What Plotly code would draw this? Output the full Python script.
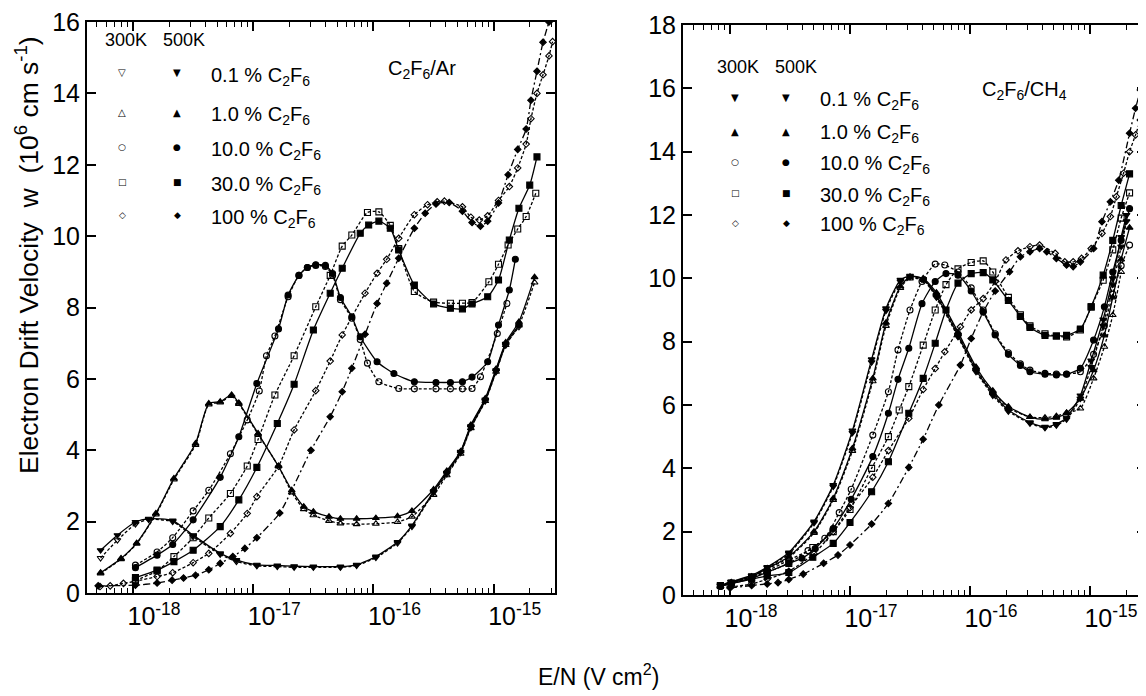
import numpy as np
import plotly.graph_objects as go

W, H = 1146, 696

# ===== Panel (a): C2F6/Ar  — x = log10(E/N / V cm^2), y = drift velocity (1e6 cm/s)
ar_01_500_x = [-18.27, -18.13, -17.98, -17.87, -17.67, -17.50, -17.275, -17.14, -16.97, -16.80, -16.66, -16.50, -16.275,
               -16.14, -15.98, -15.80, -15.68, -15.50, -15.39, -15.275, -15.19, -15.07, -14.98, -14.90, -14.79]
ar_01_500_y = [1.20, 1.62, 1.99, 2.08, 2.03, 1.62, 1.11, 0.92, 0.79, 0.77, 0.75, 0.74, 0.74,
               0.79, 1.02, 1.43, 1.89, 2.85, 3.37, 3.96, 4.67, 5.42, 6.24, 6.98, 7.50]
ar_01_300_x = ar_01_500_x
ar_01_300_y = [0.98, 1.48, 1.93, 2.06, 2.00, 1.58, 1.08, 0.88, 0.76, 0.74, 0.72, 0.72, 0.72,
               0.77, 0.99, 1.40, 1.86, 2.82, 3.33, 3.93, 4.63, 5.38, 6.20, 6.94, 7.46]

ar_1_500_x = [-18.27, -18.10, -17.97, -17.81, -17.66, -17.48, -17.37, -17.275, -17.18, -17.12, -16.96, -16.79, -16.68,
              -16.58, -16.50, -16.37, -16.275, -16.14, -15.98, -15.80, -15.68, -15.50, -15.39, -15.275, -15.19, -15.07,
              -14.98, -14.90, -14.79, -14.66]
ar_1_500_y = [0.57, 0.97, 1.40, 2.23, 3.21, 4.19, 5.31, 5.36, 5.55, 5.33, 4.47, 3.55, 2.88,
              2.42, 2.28, 2.14, 2.08, 2.08, 2.10, 2.15, 2.30, 2.90, 3.42, 3.97, 4.71, 5.45,
              6.28, 7.02, 7.60, 8.85]
ar_1_300_x = ar_1_500_x
ar_1_300_y = [0.55, 0.95, 1.38, 2.20, 3.18, 4.15, 5.28, 5.34, 5.52, 5.30, 4.45, 3.55, 2.82,
              2.35, 2.18, 2.02, 1.95, 1.93, 1.94, 1.99, 2.14, 2.75, 3.30, 3.90, 4.62, 5.38,
              6.20, 6.95, 7.50, 8.70]

ar_10_500_x = [-17.98, -17.80, -17.67, -17.50, -17.275, -17.12, -16.97, -16.79, -16.71, -16.62, -16.55, -16.48, -16.40,
               -16.34, -16.275, -16.18, -16.11, -15.97, -15.83, -15.66, -15.48, -15.36, -15.26, -15.18, -15.05, -14.96,
               -14.87, -14.82]
ar_10_500_y = [0.71, 1.06, 1.36, 2.05, 3.24, 4.38, 5.87, 7.40, 8.35, 8.90, 9.12, 9.20, 9.18,
               8.95, 8.28, 7.74, 7.18, 6.48, 6.15, 5.92, 5.90, 5.90, 5.92, 6.05, 6.48, 7.51,
               8.49, 9.35]
ar_10_300_x = [-17.98, -17.80, -17.67, -17.50, -17.37, -17.19, -17.05, -16.95, -16.89, -16.82, -16.71, -16.62, -16.55,
               -16.48, -16.40, -16.34, -16.275, -16.18, -16.11, -16.05, -15.955, -15.79, -15.66, -15.48, -15.36, -15.26,
               -15.18, -15.11, -14.97, -14.89]
ar_10_300_y = [0.78, 1.15, 1.55, 2.30, 2.88, 3.90, 4.85, 5.66, 6.65, 7.20, 8.30, 8.90, 9.12,
               9.18, 9.15, 8.90, 8.22, 7.70, 7.10, 6.44, 5.92, 5.73, 5.72, 5.72, 5.72, 5.72,
               5.73, 6.06, 7.27, 8.11]

ar_30_500_x = [-17.98, -17.80, -17.66, -17.50, -17.275, -17.12, -16.97, -16.80, -16.66, -16.50, -16.36, -16.26, -16.11,
               -16.04, -15.955, -15.86, -15.79, -15.66, -15.50, -15.36, -15.26, -15.18, -15.05, -14.96, -14.87, -14.79,
               -14.70, -14.64]
ar_30_500_y = [0.43, 0.64, 0.88, 1.20, 1.86, 2.61, 3.52, 4.75, 5.85, 7.37, 8.40, 9.10, 10.08,
               10.31, 10.42, 10.22, 9.61, 8.63, 8.10, 7.98, 7.96, 8.10, 8.30, 8.77, 9.89, 10.78,
               11.43, 12.22]
ar_30_300_x = [-17.98, -17.80, -17.66, -17.50, -17.37, -17.19, -17.05, -16.96, -16.82, -16.66, -16.48, -16.36, -16.26,
               -16.18, -16.05, -15.955, -15.86, -15.79, -15.66, -15.50, -15.36, -15.26, -15.18, -15.04, -14.96, -14.88,
               -14.80, -14.73, -14.65]
ar_30_300_y = [0.35, 0.62, 1.02, 1.55, 2.10, 2.79, 3.56, 4.30, 5.55, 6.65, 8.02, 8.90, 9.72,
               10.03, 10.66, 10.68, 10.30, 9.65, 8.45, 8.15, 8.12, 8.12, 8.14, 8.72, 9.21, 9.75,
               10.20, 10.55, 11.20]

ar_100_500_x = [-18.29, -17.98, -17.80, -17.675, -17.58, -17.48, -17.37, -17.275, -17.17, -17.07, -16.97, -16.78, -16.52,
                -16.36, -16.26, -16.18, -16.07, -15.97, -15.89, -15.79, -15.66, -15.57, -15.48, -15.37, -15.26, -15.18,
                -15.11, -15.05, -14.96, -14.88, -14.80, -14.73, -14.69, -14.64, -14.59, -14.54]
ar_100_500_y = [0.20, 0.22, 0.28, 0.36, 0.42, 0.50, 0.65, 0.83, 1.02, 1.25, 1.55, 2.24, 4.00,
                4.94, 5.64, 6.30, 7.25, 8.11, 8.68, 9.38, 10.22, 10.64, 10.90, 10.94, 10.70, 10.38,
                10.28, 10.42, 10.93, 11.72, 12.43, 13.00, 13.81, 14.62, 15.43, 16.00]
ar_100_300_x = [-18.275, -18.19, -18.08, -17.98, -17.80, -17.67, -17.50, -17.37, -17.19, -17.05, -16.97, -16.79, -16.66,
                -16.48, -16.36, -16.26, -16.07, -15.97, -15.89, -15.79, -15.66, -15.55, -15.47, -15.41, -15.26, -15.19,
                -15.12, -15.05, -14.96, -14.87, -14.80, -14.73, -14.69, -14.64, -14.59, -14.54, -14.51]
ar_100_300_y = [0.18, 0.20, 0.27, 0.33, 0.46, 0.57, 0.85, 1.11, 1.67, 2.23, 2.70, 3.55, 4.57,
                5.67, 6.50, 7.23, 8.40, 8.96, 9.35, 9.94, 10.60, 10.88, 10.96, 10.98, 10.82, 10.53,
                10.45, 10.57, 11.00, 11.39, 11.91, 12.58, 13.29, 14.00, 14.52, 15.05, 15.45]

# ===== Panel (b): C2F6/CH4
ch_01_500_x = [-18.08, -17.99, -17.82, -17.69, -17.51, -17.30, -17.14, -16.98, -16.82, -16.70, -16.58, -16.50, -16.39,
               -16.28, -16.10, -15.95, -15.81, -15.68, -15.50, -15.375, -15.28, -15.195, -15.08, -14.99, -14.89, -14.81,
               -14.74, -14.695]
ch_01_500_y = [0.30, 0.42, 0.62, 0.88, 1.34, 2.32, 3.47, 5.19, 7.44, 9.05, 9.95, 10.08, 9.98,
               9.45, 8.20, 7.10, 6.36, 5.84, 5.45, 5.31, 5.40, 5.60, 6.30, 7.40, 8.70, 10.00,
               11.30, 12.00]
ch_01_300_x = ch_01_500_x
ch_01_300_y = [0.30, 0.41, 0.60, 0.86, 1.30, 2.28, 3.42, 5.12, 7.35, 8.98, 9.90, 10.05, 9.95,
               9.40, 8.15, 7.05, 6.30, 5.80, 5.42, 5.28, 5.36, 5.55, 6.20, 7.20, 8.50, 9.80,
               11.00, 11.80]

ch_1_500_x = [-18.08, -17.99, -17.82, -17.69, -17.51, -17.30, -17.14, -16.98, -16.81, -16.70, -16.58, -16.50, -16.39,
              -16.28, -16.10, -15.95, -15.81, -15.68, -15.50, -15.375, -15.28, -15.195, -15.08, -14.97, -14.88, -14.81,
              -14.74, -14.67]
ch_1_500_y = [0.28, 0.40, 0.58, 0.84, 1.21, 2.00, 3.05, 4.63, 6.84, 8.60, 9.75, 10.05, 10.00,
              9.55, 8.30, 7.20, 6.45, 5.95, 5.62, 5.55, 5.60, 5.75, 6.20, 7.10, 8.20, 9.40,
              10.60, 11.60]
ch_1_300_x = [-18.08, -17.99, -17.82, -17.69, -17.51, -17.30, -17.14, -16.98, -16.81, -16.70, -16.58, -16.50, -16.39,
              -16.28, -16.10, -15.95, -15.81, -15.68, -15.50, -15.375, -15.28, -15.195, -15.08, -14.97, -14.88, -14.81,
              -14.74]
ch_1_300_y = [0.28, 0.39, 0.57, 0.82, 1.18, 1.96, 3.00, 4.55, 6.75, 8.50, 9.70, 10.00, 9.95,
              9.50, 8.25, 7.15, 6.40, 5.90, 5.62, 5.60, 5.65, 5.75, 5.89, 6.84, 7.84, 8.84,
              10.20]

ch_10_500_x = [-18.08, -17.99, -17.82, -17.69, -17.51, -17.40, -17.29, -17.14, -16.99, -16.81, -16.68, -16.60, -16.51,
               -16.40, -16.29, -16.20, -16.10, -15.99, -15.89, -15.79, -15.68, -15.58, -15.50, -15.375, -15.28, -15.195,
               -15.08, -14.97, -14.88, -14.81, -14.74, -14.67]
ch_10_500_y = [0.27, 0.36, 0.52, 0.72, 1.00, 1.16, 1.47, 2.10, 3.02, 4.37, 5.74, 6.81, 7.79,
               9.20, 9.90, 10.15, 10.10, 9.60, 8.94, 8.21, 7.60, 7.25, 7.05, 6.97, 6.95, 6.97,
               7.16, 8.05, 9.10, 10.20, 11.20, 12.20]
ch_10_300_x = [-18.08, -17.99, -17.82, -17.69, -17.51, -17.35, -17.21, -17.09, -16.99, -16.81, -16.68, -16.60, -16.50,
               -16.40, -16.29, -16.21, -16.10, -15.99, -15.89, -15.79, -15.68, -15.58, -15.50, -15.375, -15.28, -15.195,
               -15.08, -14.97, -14.88, -14.81, -14.74, -14.67]
ch_10_300_y = [0.27, 0.38, 0.55, 0.76, 1.10, 1.40, 1.79, 2.60, 3.34, 5.05, 6.42, 7.74, 9.00,
               9.90, 10.45, 10.42, 10.20, 9.70, 9.00, 8.25, 7.65, 7.30, 7.10, 7.00, 6.98, 6.98,
               7.05, 7.60, 8.50, 9.50, 10.40, 11.05]

ch_30_500_x = [-18.08, -17.99, -17.82, -17.69, -17.51, -17.31, -17.14, -17.00, -16.82, -16.68, -16.51, -16.39, -16.29,
               -16.20, -16.10, -15.99, -15.89, -15.81, -15.68, -15.58, -15.50, -15.375, -15.28, -15.195, -15.08, -14.99,
               -14.89, -14.81, -14.74, -14.67]
ch_30_500_y = [0.30, 0.36, 0.50, 0.60, 0.71, 1.19, 1.63, 2.29, 3.26, 4.21, 5.74, 6.84, 7.95,
               9.00, 9.85, 10.15, 10.18, 9.95, 9.30, 8.80, 8.45, 8.20, 8.18, 8.20, 8.40, 9.10,
               10.10, 11.20, 12.30, 13.30]
ch_30_300_x = [-18.08, -17.99, -17.82, -17.69, -17.51, -17.31, -17.14, -17.00, -16.82, -16.68, -16.59, -16.51, -16.39,
               -16.29, -16.20, -16.10, -15.99, -15.89, -15.81, -15.68, -15.58, -15.50, -15.375, -15.28, -15.195, -15.08,
               -14.99, -14.89, -14.81, -14.74, -14.67]
ch_30_300_y = [0.30, 0.38, 0.55, 0.72, 1.00, 1.50, 2.00, 2.70, 4.00, 5.00, 5.84, 6.58, 7.89,
               9.00, 9.80, 10.30, 10.50, 10.55, 10.20, 9.40, 8.85, 8.50, 8.25, 8.18, 8.15, 8.37,
               9.10, 9.94, 10.90, 11.90, 12.70]

ch_100_500_x = [-18.00, -17.82, -17.69, -17.60, -17.51, -17.39, -17.22, -17.10, -17.00, -16.82, -16.68, -16.51, -16.39,
                -16.26, -16.08, -15.99, -15.89, -15.79, -15.67, -15.58, -15.50, -15.42, -15.36, -15.28, -15.195, -15.14,
                -15.08, -14.97, -14.90, -14.83, -14.76, -14.67, -14.62, -14.58, -14.56]
ch_100_500_y = [0.22, 0.30, 0.35, 0.39, 0.49, 0.66, 1.00, 1.26, 1.58, 2.24, 2.89, 4.03, 4.92,
                6.00, 7.26, 8.10, 8.94, 9.60, 10.21, 10.68, 10.84, 10.94, 10.84, 10.63, 10.42, 10.37,
                10.52, 10.94, 11.79, 12.42, 13.10, 14.58, 15.37, 15.95, 16.39]
ch_100_300_x = [-18.00, -17.82, -17.69, -17.51, -17.30, -17.14, -17.00, -16.81, -16.68, -16.51, -16.39, -16.29, -16.21,
                -16.08, -15.99, -15.89, -15.79, -15.70, -15.60, -15.50, -15.42, -15.29, -15.21, -15.14, -15.07, -14.99,
                -14.90, -14.83, -14.78, -14.72, -14.67, -14.62, -14.58]
ch_100_300_y = [0.25, 0.35, 0.50, 0.75, 1.30, 2.00, 2.76, 3.72, 4.56, 5.58, 6.49, 7.15, 7.68,
                8.47, 9.00, 9.36, 9.90, 10.58, 10.87, 11.00, 11.05, 10.79, 10.52, 10.52, 10.63, 10.94,
                11.42, 11.95, 12.58, 13.32, 14.00, 14.53, 15.00]

xtick_vals = [1e-18, 1e-17, 1e-16, 1e-15]
xtick_text = ["10<sup>-18</sup>", "10<sup>-17</sup>", "10<sup>-16</sup>", "10<sup>-15</sup>"]

FONT = "Liberation Sans, Arial, Helvetica, sans-serif"
OFF = 8  # the page body offsets the figure by 8 px


def px(x):
    return (x - OFF) / W


def py(y):
    return 1 - (y - OFF) / H


fig = go.Figure()


def add(lx, vy, symbol, open_, dash, xa, ya, size=6):
    sym = symbol + ("-open" if open_ else "")
    fig.add_trace(go.Scatter(
        x=[10.0 ** v for v in lx], y=vy, mode="lines+markers", xaxis=xa, yaxis=ya,
        line=dict(color="black", width=1.3, dash=dash, shape="spline", smoothing=0.6),
        marker=dict(symbol=sym, size=size, color="black", line=dict(color="black", width=1.1)),
        showlegend=False, hoverinfo="skip"))


DOT = "3px,2px"
DASHDOT = "7px,3px,2px,3px"

# panel (a)
add(ar_01_300_x, ar_01_300_y, "triangle-down", True, DOT, "x", "y")
add(ar_01_500_x, ar_01_500_y, "triangle-down", False, "solid", "x", "y")
add(ar_1_300_x, ar_1_300_y, "triangle-up", True, DOT, "x", "y")
add(ar_1_500_x, ar_1_500_y, "triangle-up", False, "solid", "x", "y")
add(ar_10_300_x, ar_10_300_y, "circle", True, DOT, "x", "y")
add(ar_10_500_x, ar_10_500_y, "circle", False, "solid", "x", "y")
add(ar_30_300_x, ar_30_300_y, "square", True, DOT, "x", "y")
add(ar_30_500_x, ar_30_500_y, "square", False, "solid", "x", "y")
add(ar_100_300_x, ar_100_300_y, "diamond", True, DOT, "x", "y", 5)
add(ar_100_500_x, ar_100_500_y, "diamond", False, DASHDOT, "x", "y", 5)

# panel (b)
add(ch_01_300_x, ch_01_300_y, "triangle-down", False, DOT, "x2", "y2")
add(ch_01_500_x, ch_01_500_y, "triangle-down", False, "solid", "x2", "y2")
add(ch_1_300_x, ch_1_300_y, "triangle-up", True, DOT, "x2", "y2")
add(ch_1_500_x, ch_1_500_y, "triangle-up", False, "solid", "x2", "y2")
add(ch_10_300_x, ch_10_300_y, "circle", True, DOT, "x2", "y2")
add(ch_10_500_x, ch_10_500_y, "circle", False, "solid", "x2", "y2")
add(ch_30_300_x, ch_30_300_y, "square", True, DOT, "x2", "y2")
add(ch_30_500_x, ch_30_500_y, "square", False, "solid", "x2", "y2")
add(ch_100_300_x, ch_100_300_y, "diamond", True, DOT, "x2", "y2", 5)
add(ch_100_500_x, ch_100_500_y, "diamond", False, DASHDOT, "x2", "y2", 5)


def xax(dom, rng, anchor):
    return dict(type="log", domain=dom, range=rng, anchor=anchor, automargin=False,
                tickmode="array", tickvals=xtick_vals, ticktext=xtick_text,
                showline=True, linecolor="black", linewidth=2, mirror="allticks",
                ticks="inside", ticklen=9, tickwidth=1.5, tickcolor="black",
                minor=dict(ticks="inside", ticklen=5, tickwidth=1, tickcolor="black", dtick="D1", showgrid=False),
                showgrid=False, zeroline=False, ticklabelshift=21, ticklabeloverflow="allow",
                tickfont=dict(family=FONT, size=25, color="black"))


def yax(dom, rng, anchor):
    return dict(domain=dom, range=rng, dtick=2, anchor=anchor, automargin=False,
                showline=True, linecolor="black", linewidth=2, mirror="allticks",
                ticks="inside", ticklen=9, tickwidth=1.5, tickcolor="black",
                showgrid=False, zeroline=False, ticklabeloverflow="allow",
                tickfont=dict(family=FONT, size=25, color="black"))


fig.update_layout(
    template="none",
    width=W, height=H, margin=dict(l=0, r=0, t=0, b=0, autoexpand=False),
    paper_bgcolor="white", plot_bgcolor="white",
    xaxis=xax([px(87), px(555)], [-18.383, -14.49], "y"),
    yaxis=yax([py(593), py(22)], [0, 16], "x"),
    xaxis2=xax([px(683), px(1146)], [-18.392, -14.533], "y2"),
    yaxis2=yax([py(595), py(25)], [0, 18], "x2"),
)

ann = []


def txt(x, y, s, size, xanchor="left", yanchor="middle", angle=0, family=FONT):
    ann.append(dict(x=px(x), y=py(y), xref="paper", yref="paper", text=s, showarrow=False,
                    xanchor=xanchor, yanchor=yanchor, textangle=angle,
                    font=dict(family=family, size=size, color="black")))


txt(27, 255, "Electron Drift Velocity  w  (10<sup>6</sup> cm s<sup>-1</sup>)", 26.5, "center", "middle", -90)
txt(598, 675, "E/N (V cm<sup>2</sup>)", 23, "center", "middle")

GL = "DejaVu Sans, sans-serif"
leg_rows = ["0.1 % C<sub>2</sub>F<sub>6</sub>", "1.0 % C<sub>2</sub>F<sub>6</sub>", "10.0 % C<sub>2</sub>F<sub>6</sub>",
            "30.0 % C<sub>2</sub>F<sub>6</sub>", "100 % C<sub>2</sub>F<sub>6</sub>"]
fill_glyph = ["▼", "▲", "●", "■", "◆"]
glyph_size = [10, 10, 9, 9, 9]

# panel (a) labels / legend
txt(386, 70, "C<sub>2</sub>F<sub>6</sub>/Ar", 20)
txt(103, 40, "300K", 18)
txt(161, 40, "500K", 18)
open_glyph = ["▽", "△", "○", "□", "◇"]
for i, yy in enumerate([73, 112, 147, 182, 215]):
    txt(122, yy, open_glyph[i], glyph_size[i], "center", family=GL)
    txt(177, yy, fill_glyph[i], glyph_size[i], "center", family=GL)
    txt(209, yy + 3, leg_rows[i], 20)

# panel (b) labels / legend
txt(980, 90, "C<sub>2</sub>F<sub>6</sub>/CH<sub>4</sub>", 20)
txt(715, 67, "300K", 18)
txt(773, 67, "500K", 18)
open_glyph_b = ["▼", "▲", "○", "□", "◇"]
for i, yy in enumerate([98, 131, 162, 193, 223]):
    txt(735, yy, open_glyph_b[i], glyph_size[i], "center", family=GL)
    txt(786, yy, fill_glyph[i], glyph_size[i], "center", family=GL)
    txt(818, yy + 3, leg_rows[i], 20)

fig.update_layout(annotations=ann)
fig.write_html("out.html")
